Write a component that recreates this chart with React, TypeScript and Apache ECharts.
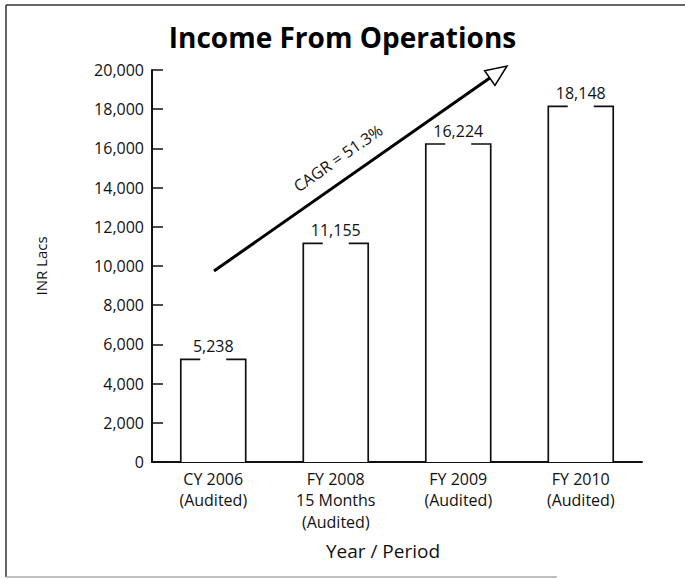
import React, { useEffect, useRef } from "react";
import * as echarts from "echarts";

const categories = [
  "CY 2006\n(Audited)",
  "FY 2008\n15 Months\n(Audited)",
  "FY 2009\n(Audited)",
  "FY 2010\n(Audited)",
];
const incomeValues = [5238, 11155, 16224, 18148];
const yTicks = { min: 0, max: 20000, interval: 2000 };
const titleText = "Income From Operations";
const cagrText = "CAGR = 51.3%";
const yAxisName = "INR Lacs";
const xAxisName = "Year / Period";

const FONT = '"Open Sans", "Noto Sans", sans-serif';
const INK = "#111";

export default function App() {
  const ref = useRef<HTMLDivElement>(null);

  useEffect(() => {
    if (!ref.current) return;
    const chart = echarts.init(ref.current, undefined, { renderer: "svg" });

    // arrow geometry (annotation)
    const tail = [214, 271];
    const tip = [507, 66];
    const dx = tip[0] - tail[0];
    const dy = tip[1] - tail[1];
    const len = Math.sqrt(dx * dx + dy * dy);
    const ux = dx / len;
    const uy = dy / len;
    const headLen = 21;
    const headHalf = 9;
    const bx = tip[0] - headLen * ux;
    const by = tip[1] - headLen * uy;
    const nx = -uy;
    const ny = ux;
    const angle = Math.atan2(-dy, dx);

    const option: any = {
      animation: false,
      backgroundColor: "#fff",
      title: {
        text: titleText,
        left: "center",
        top: 18,
        padding: [5, 0, 5, 11],
        textStyle: {
          fontFamily: FONT,
          fontWeight: "bold",
          fontSize: 28,
          color: "#000",
        },
      },
      grid: { left: 152, right: 43, top: 70, bottom: 117, containLabel: false },
      xAxis: {
        type: "category",
        data: categories,
        boundaryGap: true,
        axisLine: { lineStyle: { color: INK, width: 2 } },
        axisTick: { inside: true, length: 9, lineStyle: { color: INK, width: 1.5 } },
        axisLabel: {
          fontFamily: FONT,
          fontSize: 16,
          color: INK,
          lineHeight: 21.5,
          margin: 6,
          interval: 0,
        },
        name: xAxisName,
        nameLocation: "middle",
        nameGap: 79,
        nameTextStyle: {
          fontFamily: FONT,
          fontSize: 19,
          color: INK,
          padding: [0, 28, 0, 0],
        },
      },
      yAxis: {
        type: "value",
        min: yTicks.min,
        max: yTicks.max,
        interval: yTicks.interval,
        splitLine: { show: false },
        axisLine: { show: true, lineStyle: { color: INK, width: 2 } },
        axisTick: { show: true, inside: true, length: 11, lineStyle: { color: INK, width: 1.5 } },
        axisLabel: {
          fontFamily: FONT,
          fontSize: 16,
          color: INK,
          margin: 8,
          formatter: (v: number) => v.toLocaleString("en-US"),
        },
        name: yAxisName,
        nameLocation: "middle",
        nameRotate: 90,
        nameGap: 104,
        nameTextStyle: { fontFamily: FONT, fontSize: 15, color: INK },
      },
      series: [
        {
          type: "custom",
          data: incomeValues.map((v, i) => [i, v]),
          encode: { x: 0, y: 1 },
          renderItem: (params: any, api: any) => {
            const idx = api.value(0);
            const val = api.value(1);
            const top = api.coord([idx, val]);
            const base = api.coord([idx, 0]);
            const band = api.size([1, 0])[0];
            const w = band * 0.53;
            const cx = top[0];
            const x0 = cx - w / 2;
            const x1 = cx + w / 2;
            const gap = w * 0.4;
            const yT = top[1];
            const yB = base[1];
            const lineStyle = { stroke: INK, fill: null, lineWidth: 1.7 };
            return {
              type: "group",
              children: [
                {
                  type: "rect",
                  shape: { x: x0, y: yT, width: w, height: yB - yT },
                  style: { fill: "#fff", stroke: null },
                },
                {
                  type: "polyline",
                  shape: { points: [[cx - gap / 2, yT], [x0, yT], [x0, yB]] },
                  style: lineStyle,
                },
                {
                  type: "polyline",
                  shape: { points: [[cx + gap / 2, yT], [x1, yT], [x1, yB]] },
                  style: lineStyle,
                },
                {
                  type: "text",
                  x: cx,
                  y: yT - 5,
                  style: {
                    text: Number(val).toLocaleString("en-US"),
                    align: "center",
                    textAlign: "center",
                    verticalAlign: "bottom",
                    textVerticalAlign: "bottom",
                    fontFamily: FONT,
                    fontSize: 16,
                    fill: INK,
                  },
                },
              ],
            };
          },
          z: 3,
        },
      ],
      graphic: [
        // frame
        {
          type: "line",
          shape: { x1: 6, y1: 5, x2: 6, y2: 577 },
          style: { stroke: "#333", lineWidth: 1.5 },
          silent: true,
        },
        {
          type: "line",
          shape: { x1: 6, y1: 5, x2: 685, y2: 5 },
          style: { stroke: "#333", lineWidth: 1.5 },
          silent: true,
        },
        {
          type: "line",
          shape: { x1: 6, y1: 577, x2: 557, y2: 577 },
          style: { stroke: "#aaa", lineWidth: 1.5 },
          silent: true,
        },
        // arrow shaft
        {
          type: "line",
          shape: { x1: tail[0], y1: tail[1], x2: bx, y2: by },
          style: { stroke: "#000", lineWidth: 3 },
          z: 10,
        },
        // arrow head
        {
          type: "polygon",
          shape: {
            points: [
              [tip[0], tip[1]],
              [bx + headHalf * nx, by + headHalf * ny],
              [bx - headHalf * nx, by - headHalf * ny],
            ],
          },
          style: { fill: "#fff", stroke: "#000", lineWidth: 1.5 },
          z: 10,
        },
        // CAGR label
        {
          type: "text",
          x: 338,
          y: 158,
          rotation: angle,
          style: {
            text: cagrText,
            x: 0,
            y: 0,
            align: "center",
            textAlign: "center",
            verticalAlign: "middle",
            textVerticalAlign: "middle",
            fontFamily: FONT,
            fontSize: 16,
            fill: INK,
          },
          z: 10,
        },
      ],
    };

    chart.setOption(option);
    return () => chart.dispose();
  }, []);

  return (
    <div
      ref={ref}
      style={{ position: "fixed", left: 0, top: 0, width: 685, height: 579 }}
    />
  );
}
